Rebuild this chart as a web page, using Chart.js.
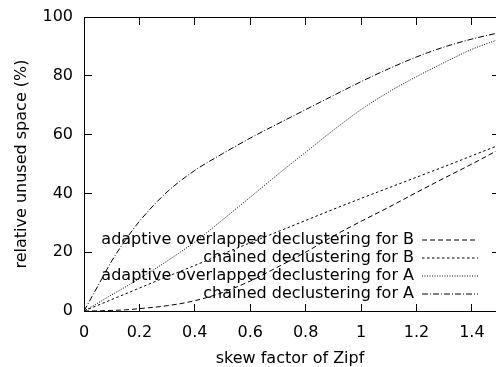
<!DOCTYPE html>
<html><head><meta charset="utf-8">
<script src="https://cdn.jsdelivr.net/npm/chart.js@4/dist/chart.umd.min.js"></script>
<style>html,body{margin:0;padding:0;background:#fff}canvas{display:block}</style>
</head><body>
<canvas id="c" width="496" height="367"></canvas>
<script>
// ---- data ----
const skew = [0,0.05,0.1,0.15,0.2,0.3,0.4,0.5,0.6,0.7,0.8,0.9,1.0,1.1,1.2,1.3,1.4,1.5];
const adaptiveB = [0,0.05,0.2,0.4,0.8,1.8,3.5,6.3,10.2,15,20,25.5,30.5,35.3,40.3,45.2,50,55];
const chainedB  = [0,1.95,3.9,5.85,7.8,11.7,15.5,19.4,23.2,27,30.8,34.6,38.3,41.9,45.5,49.1,52.8,56.5];
const adaptiveA = [0,2.7,5.5,8.2,11,17,23.5,31,38.7,46.5,54,61.5,68.5,74.5,79.7,84.5,89,92.5];
const chainedA  = [0,8.5,17,24.2,30.5,40.5,47.8,53.5,58.8,63.7,68.5,73.3,78,82.4,86.4,89.8,92.5,94.7];
const seriesNames = [
  'adaptive overlapped declustering for B',
  'chained declustering for B',
  'adaptive overlapped declustering for A',
  'chained declustering for A'
];
const xTicks = [0,0.2,0.4,0.6,0.8,1,1.2,1.4];
const xTickLabels = ['0','0.2','0.4','0.6','0.8','1','1.2','1.4'];
const yTicks = [0,20,40,60,80,100];
const yTickLabels = ['0','20','40','60','80','100'];
const xAxisTitle = 'skew factor of Zipf';
const yAxisTitle = 'relative unused space (%)';

// ---- styling ----
Chart.defaults.font.family = 'DejaVu Sans';
Chart.defaults.font.size = 16;
Chart.defaults.color = '#000';

const dashes = [[5,3],[2.5,2.5],[1,1.5],[6,2,1,2]];
const allSeries = [adaptiveB, chainedB, adaptiveA, chainedA];
const datasets = allSeries.map((vals, i) => ({
  label: seriesNames[i],
  data: skew.map((x, j) => ({x: x, y: vals[j]})),
  borderColor: '#000',
  backgroundColor: '#000',
  borderWidth: 1,
  borderDash: dashes[i],
  pointRadius: 0,
  fill: false,
  cubicInterpolationMode: 'monotone'
}));

const setTicks = (vals) => (scale) => { scale.ticks = vals.map(v => ({value: v})); };
const fixSize = (prop, val) => (s) => {
  s[prop] = val;
  s.paddingLeft = 0; s.paddingRight = 0; s.paddingTop = 0; s.paddingBottom = 0;
};
const XMAX = 1.487;
const noGrid = {display: false, drawOnChartArea: false, drawTicks: false};

// gnuplot-style inward tick marks on all four sides, placed by the scales
const inwardTicks = {
  id: 'inwardTicks',
  afterDraw(chart) {
    const {ctx, chartArea: a, scales} = chart;
    const al = (p) => Math.round(p - 0.5);
    ctx.save();
    ctx.fillStyle = '#000';
    xTicks.forEach(v => {
      const px = al(scales.x.getPixelForValue(v));
      ctx.fillRect(px, a.bottom - 7, 1, 7);
      ctx.fillRect(px, a.top, 1, 8);
    });
    yTicks.forEach(v => {
      const py = al(scales.y.getPixelForValue(v));
      ctx.fillRect(a.left, py, 8, 1);
      ctx.fillRect(a.right - 4, py, 4, 1);
    });
    ctx.restore();
  }
};

const legendPlacer = {
  id: 'legendPlacer',
  afterLayout(chart) {
    const lg = chart.legend;
    if (!lg) return;
    const pad = lg.options.labels.padding;
    const w = lg.width;
    lg.left = 478 - w + pad;
    lg.right = lg.left + w;
    lg.bottom = 304;
    lg.top = 17;
  }
};

new Chart(document.getElementById('c'), {
  type: 'line',
  data: {datasets},
  options: {
    responsive: false,
    animation: false,
    devicePixelRatio: 1,
    layout: {padding: 0},
    plugins: {
      legend: {
        position: 'chartArea',
        fullSize: false,
        rtl: true,
        align: 'end',
        labels: {
          usePointStyle: true,
          pointStyle: 'line',
          pointStyleWidth: 56,
          boxHeight: 16,
          padding: 2,
          color: '#000',
          font: {size: 16},
          generateLabels(chart) {
            const items = Chart.defaults.plugins.legend.labels.generateLabels(chart);
            items.forEach(it => {
              const ds = chart.data.datasets[it.datasetIndex];
              it.lineDash = ds.borderDash;
              it.lineWidth = ds.borderWidth;
              it.strokeStyle = ds.borderColor;
              it.pointStyle = 'line';
            });
            return items;
          }
        }
      },
      tooltip: {enabled: false}
    },
    scales: {
      x: {
        type: 'linear', position: 'bottom', min: 0, max: XMAX,
        afterBuildTicks: setTicks(xTicks),
        afterFit: fixSize('height', 56),
        grid: noGrid,
        border: {display: true, color: '#000', width: 1},
        ticks: {padding: 12, maxRotation: 0, autoSkip: false, color: '#000',
                callback: (v, i) => xTickLabels[i]},
        title: {display: true, text: xAxisTitle, color: '#000', padding: {top: 0, bottom: -1}}
      },
      x2: {
        type: 'linear', position: 'top', min: 0, max: XMAX,
        afterBuildTicks: setTicks(xTicks),
        afterFit: fixSize('height', 17),
        grid: noGrid,
        border: {display: true, color: '#000', width: 1},
        ticks: {display: false}
      },
      y: {
        type: 'linear', position: 'left', min: 0, max: 100,
        afterBuildTicks: setTicks(yTicks),
        afterFit: fixSize('width', 84),
        grid: noGrid,
        border: {display: true, color: '#000', width: 1},
        ticks: {padding: 11, color: '#000', callback: (v, i) => yTickLabels[i]},
        title: {display: true, text: yAxisTitle, color: '#000', padding: {top: 12, bottom: 0}}
      }
    }
  },
  plugins: [inwardTicks, legendPlacer]
});
</script>
</body></html>
